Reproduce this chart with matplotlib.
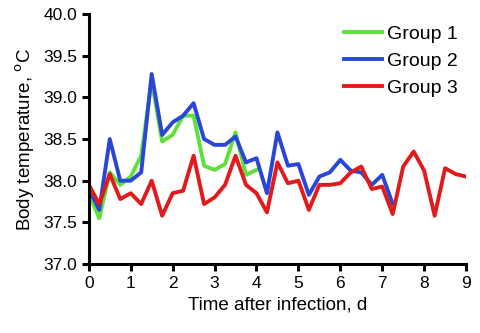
import matplotlib
matplotlib.use('Agg')
import matplotlib.pyplot as plt

plt.rcParams['font.family'] = ['Liberation Sans', 'DejaVu Sans']

# days after infection, every 6 h
TIME = [i * 0.25 for i in range(37)]

GROUP1 = [37.85, 37.55, 38.10, 37.95, 38.05, 38.30, 39.20, 38.47, 38.55, 38.78,
          38.78, 38.18, 38.13, 38.20, 38.58, 38.07, 38.13]
GROUP2 = [37.90, 37.65, 38.50, 38.00, 38.00, 38.10, 39.28, 38.55, 38.70, 38.78,
          38.93, 38.50, 38.43, 38.43, 38.53, 38.22, 38.27, 37.85, 38.58, 38.18,
          38.20, 37.83, 38.05, 38.10, 38.25, 38.12, 38.10, 37.95, 38.07, 37.72]
GROUP3 = [37.95, 37.72, 38.08, 37.78, 37.85, 37.72, 38.00, 37.58, 37.85, 37.88,
          38.30, 37.72, 37.80, 37.95, 38.30, 37.95, 37.85, 37.62, 38.22, 37.97,
          38.00, 37.65, 37.95, 37.95, 37.97, 38.10, 38.17, 37.90, 37.93, 37.60,
          38.17, 38.35, 38.12, 37.58, 38.15, 38.08, 38.05]

LABELS = ['Group 1', 'Group 2', 'Group 3']
COLORS = ['#5ee23a', '#2a46d8', '#e31a1c']

fig = plt.figure(figsize=(4.8, 3.33), dpi=100)
ax = fig.add_axes([0.185, 0.207, 0.786, 0.751])

for vals, lab, col in zip([GROUP1, GROUP2, GROUP3], LABELS, COLORS):
    ax.plot(TIME[:len(vals)], vals, color=col, lw=2.8, label=lab)

ax.set_xlim(0, 9)
ax.set_ylim(37.0, 40.0)
ax.set_xticks(range(10))
ax.set_yticks([37.0, 37.5, 38.0, 38.5, 39.0, 39.5, 40.0])
ax.set_yticklabels(['%.1f' % v for v in ax.get_yticks()])
for s in ['top', 'right']:
    ax.spines[s].set_visible(False)
for s in ['left', 'bottom']:
    ax.spines[s].set_linewidth(2.2)
ax.tick_params(width=2.2, length=5, labelsize=12.5)
ax.set_xlabel('Time after infection, d', fontsize=13.5)
ax.set_ylabel('Body temperature, $^{\\rm o}$C', fontsize=13.5)
ax.legend(frameon=False, fontsize=14, loc='upper right',
          bbox_to_anchor=(1.025, 1.026), handlelength=2.0, handletextpad=0.25)

fig.savefig('out.png')
